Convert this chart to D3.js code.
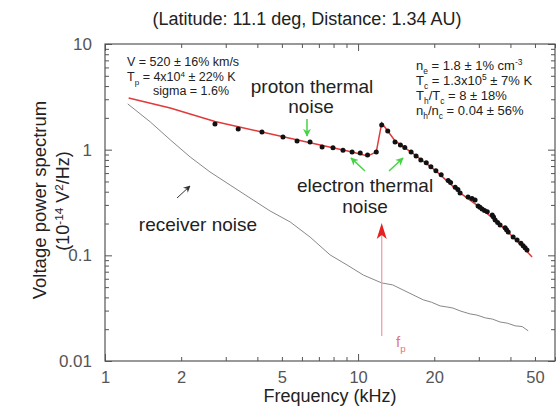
<!DOCTYPE html>
<html><head><meta charset="utf-8">
<script src="https://cdn.jsdelivr.net/npm/d3@7"></script>
<style>body{margin:0;background:#fff;} svg{font-family:Arial,"Liberation Sans",sans-serif;}</style>
</head><body><svg id="c" width="558" height="408"></svg>
<script>
// ---- data ----
const dotFreq=[2.72,3.36,4.17,5.05,5.74,6.46,7.21,7.96,8.72,9.47,10.2,10.9,11.8,12.4,13.1,14.0,14.7,15.3,16.2,16.95,17.7,18.6,19.4,20.3,21.3,22.7,23.2,24.2,24.8,25.3,27.2,28.2,29.0,29.8,30.3,30.9,31.6,32.4,33.9,34.3,34.8,35.6,36.4,38.1,38.6,39.2,41.0,42.5,44.0,44.9,45.7,46.5];
const dotVal=[1.75,1.57,1.47,1.32,1.21,1.18,1.06,1.04,0.99,0.95,0.93,0.89,0.95,1.71,1.50,1.18,1.11,1.05,0.95,0.87,0.80,0.75,0.69,0.63,0.58,0.51,0.49,0.44,0.42,0.39,0.357,0.345,0.334,0.293,0.285,0.275,0.266,0.258,0.241,0.23,0.216,0.205,0.194,0.182,0.175,0.166,0.149,0.140,0.130,0.123,0.118,0.1125];
const fitFreq=[1.24,1.81,2.72,4.17,6.46,9.47,10.9,11.8,12.4,13.1,14.0,16.2,20.3,25.3,30.9,36.4,41.0,48.7];
const fitVal=[3.08,2.48,1.85,1.47,1.16,0.95,0.87,0.95,1.79,1.50,1.21,0.95,0.63,0.39,0.275,0.194,0.149,0.0966];
const noiseFreq=[1.23,1.51,1.81,2.17,2.60,3.12,3.74,4.49,5.39,6.46,7.75,9.05,10.5,12.4,13.7,15.6,18.1,19.5,21.1,22.4,23.7,25.5,27.7,29.5,31.8,34.0,36.4,38.9,41.8,44.5,47.0];
const noiseVal=[2.71,1.83,1.24,0.853,0.615,0.463,0.349,0.263,0.207,0.149,0.101,0.081,0.065,0.0548,0.0525,0.0451,0.0379,0.0360,0.0332,0.0325,0.0317,0.0296,0.0279,0.0272,0.0256,0.0249,0.0234,0.0228,0.0215,0.0212,0.0193];
const fpFreq=12.4;
const xMajor=[1,10];
const xMinor=[2,3,4,5,6,7,8,9,20,30,40,50,60];
const xLabels=[1,2,5,10,20,50];
const yMajor=[0.01,0.1,1,10];
const yMinor=[0.02,0.03,0.04,0.05,0.06,0.07,0.08,0.09,0.2,0.3,0.4,0.5,0.6,0.7,0.8,0.9,2,3,4,5,6,7,8,9];

// ---- scales ----
const svg=d3.select("#c");
const L=105,R=555,T=44,B=361;
const x=d3.scaleLog().domain([1,60]).range([L,R]);
const y=d3.scaleLog().domain([0.01,10]).range([B,T]);
const axisCol="#555";

function ax(gen,tr,vals,size){
  const g=svg.append("g").attr("transform",tr).call(gen.tickValues(vals).tickSize(size).tickFormat(""));
  g.select(".domain").remove();
  g.selectAll("line").attr("stroke",axisCol);
  return g;
}
ax(d3.axisBottom(x),`translate(0,${B})`,xMajor,-7);
ax(d3.axisBottom(x),`translate(0,${B})`,xMinor,-4);
ax(d3.axisTop(x),`translate(0,${T})`,xMajor,-7);
ax(d3.axisTop(x),`translate(0,${T})`,xMinor,-4);
ax(d3.axisLeft(y),`translate(${L},0)`,yMajor,-7);
ax(d3.axisLeft(y),`translate(${L},0)`,yMinor,-4);
ax(d3.axisRight(y),`translate(${R},0)`,yMajor,-7);
ax(d3.axisRight(y),`translate(${R},0)`,yMinor,-4);

svg.append("rect").attr("x",L).attr("y",T).attr("width",R-L).attr("height",B-T)
  .attr("fill","none").attr("stroke",axisCol).attr("stroke-width",1.2);

// tick labels
const xl=svg.append("g").attr("transform",`translate(0,${B})`)
  .call(d3.axisBottom(x).tickValues(xLabels).tickSize(0).tickPadding(10).tickFormat(d3.format("~g")));
xl.select(".domain").remove();
xl.selectAll("text").attr("font-size",16.5).attr("fill","#555").attr("font-family","Arial, Liberation Sans, sans-serif");
const yl=svg.append("g").attr("transform",`translate(${L},0)`)
  .call(d3.axisLeft(y).tickValues(yMajor).tickSize(0).tickPadding(13).tickFormat(d3.format("~g")));
yl.select(".domain").remove();
yl.selectAll("text").attr("font-size",17).attr("fill","#555").attr("font-family","Arial, Liberation Sans, sans-serif");

// ---- lines ----
const line=d3.line().x(d=>x(d[0])).y(d=>y(d[1]));
svg.append("path").datum(d3.zip(noiseFreq,noiseVal)).attr("d",line)
  .attr("fill","none").attr("stroke","#888").attr("stroke-width",1);
svg.append("path").datum(d3.zip(fitFreq,fitVal)).attr("d",line)
  .attr("fill","none").attr("stroke","#e03a3a").attr("stroke-width",1.5);
svg.append("g").selectAll("circle").data(d3.zip(dotFreq,dotVal)).join("circle")
  .attr("cx",d=>x(d[0])).attr("cy",d=>y(d[1])).attr("r",2.5).attr("fill","#111");

// ---- text helpers ----
function rich(xp,yp,segs,size,anchor,fill,tr){
  const t=svg.append("text").attr("x",xp).attr("y",yp).attr("font-size",size)
    .attr("text-anchor",anchor||"start").attr("fill",fill||"#222");
  if(tr) t.attr("transform",tr);
  let cur=0;
  segs.forEach(s=>{
    const off=s[1]==="sub"?size*0.3:s[1]==="sup"?-size*0.35:0;
    const ts=t.append("tspan").attr("dy",off-cur).text(s[0]);
    if(s[1]) ts.attr("font-size",size*0.65);
    cur=off;
  });
  return t;
}

// title & axis titles
svg.append("text").attr("x",307).attr("y",25).attr("text-anchor","middle")
  .attr("font-size",18).attr("fill","#222").text("(Latitude: 11.1 deg, Distance: 1.34 AU)");
svg.append("text").attr("x",330).attr("y",402).attr("text-anchor","middle")
  .attr("font-size",18).attr("fill","#222").text("Frequency (kHz)");
svg.append("text").attr("transform","translate(46,200) rotate(-90)").attr("text-anchor","middle")
  .attr("font-size",18.5).attr("fill","#222").text("Voltage power spectrum");
rich(0,0,[["(10"],["-14","sup"],[" V"],["2","sup"],["/Hz)"]],18,"middle","#222","translate(69,201) rotate(-90)");

// parameter boxes
rich(127,66,[["V = 520 ± 16% km/s"]],12.5);
rich(127,81,[["T"],["p","sub"],[" = 4x10"],["4","sup"],[" ± 22% K"]],12.5);
rich(153,95,[["sigma = 1.6%"]],12.5);
rich(416,70,[["n"],["e","sub"],[" = 1.8 ± 1% cm"],["-3","sup"]],13);
rich(416,85,[["T"],["c","sub"],[" = 1.3x10"],["5","sup"],[" ± 7% K"]],13);
rich(416,100,[["T"],["h","sub"],["/T"],["c","sub"],[" = 8 ± 18%"]],13);
rich(416,115,[["n"],["h","sub"],["/n"],["c","sub"],[" = 0.04 ± 56%"]],13);

// annotations
svg.append("text").attr("x",312).attr("y",93).attr("text-anchor","middle").attr("font-size",19).attr("fill","#222").text("proton thermal");
svg.append("text").attr("x",311).attr("y",113).attr("text-anchor","middle").attr("font-size",19).attr("fill","#222").text("noise");
svg.append("text").attr("x",365).attr("y",192).attr("text-anchor","middle").attr("font-size",19).attr("fill","#222").text("electron thermal");
svg.append("text").attr("x",365).attr("y",213).attr("text-anchor","middle").attr("font-size",19).attr("fill","#222").text("noise");
svg.append("text").attr("x",198).attr("y",231).attr("text-anchor","middle").attr("font-size",19).attr("fill","#222").text("receiver noise");

// arrows
const defs=svg.append("defs");
function marker(id,col,w,h){
  defs.append("marker").attr("id",id).attr("viewBox","0 0 10 10").attr("refX",9).attr("refY",5)
    .attr("markerWidth",w).attr("markerHeight",h).attr("orient","auto").attr("markerUnits","userSpaceOnUse")
    .append("path").attr("d","M0,0 L10,5 L0,10 L3,5 Z").attr("fill",col);
}
marker("mg","#44d444",8,8);
marker("mk","#333",7,7);
function arrow(x1,y1,x2,y2,col,m,w){
  svg.append("line").attr("x1",x1).attr("y1",y1).attr("x2",x2).attr("y2",y2)
    .attr("stroke",col).attr("stroke-width",w).attr("marker-end",`url(#${m})`);
}
arrow(307,119,307,136,"#44d444","mg",1.5);
arrow(365,171,351,158,"#44d444","mg",1.5);
arrow(389,171,403,158,"#44d444","mg",1.5);
arrow(177,198,190,186,"#333","mk",1);

// plasma frequency arrow
const fx=x(fpFreq);
svg.append("line").attr("x1",fx).attr("x2",fx).attr("y1",336).attr("y2",232)
  .attr("stroke","#f0a0a8").attr("stroke-width",1.3);
svg.append("path").attr("d",`M${fx},223 L${fx+5},239 L${fx},235 L${fx-5},239 Z`).attr("fill","#e52020");
rich(396,347,[["f"],["p","sub"]],15,"start","#e07880");
</script></body></html>
